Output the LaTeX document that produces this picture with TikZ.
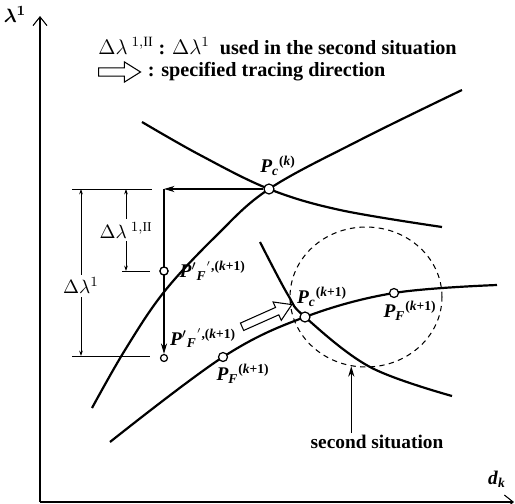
\documentclass[tikz,border=0pt]{standalone}
\usepackage{amsmath}
\usepackage{fontspec}
\setmainfont{Liberation Serif}
\usetikzlibrary{arrows.meta,positioning,calc,shapes.geometric,shapes.arrows}

% point labels: P, subscript, superscript
\newcommand{\plab}[3]{\textit{P}#1$_{\textit{#2}}$\textsuperscript{#3}}

\begin{document}
\begin{tikzpicture}[
        x=0.02cm, y=-0.02cm,
        curve/.style={line width=1.25pt},
        pt/.style={circle, draw, fill=white, line width=0.7pt,
                   inner sep=0pt, minimum size=0.2cm},
        lbl/.style={font=\fontsize{11}{12}\selectfont\bfseries, inner sep=1pt},
        dlbl/.style={font=\fontsize{11}{12}\selectfont, inner sep=1.5pt, fill=white},
        legend/.style={font=\fontsize{11.5}{13}\selectfont\bfseries, anchor=west, inner sep=0pt},
        axis/.style={line width=0.6pt, -{Straight Barb[length=5pt,width=8pt]}},
        arrow/.style={line width=0.6pt, -{Stealth[length=6pt,width=3.5pt]}},
        dim/.style={line width=0.5pt, {Stealth[length=3pt,width=2pt]}-{Stealth[length=3pt,width=2pt]}},
        ext/.style={line width=0.5pt},
        hollow/.style={single arrow, draw, fill=white, line width=0.6pt, inner sep=2pt,
                       single arrow head extend=0.12cm, single arrow tip angle=64}
    ]
        \useasboundingbox (0,0) rectangle (515,504);

        % axes
        \coordinate (o) at (40,502);
        \coordinate (ytip) at (40,16);
        \coordinate (xtip) at (514,502);
        \draw[axis] (o) -- (ytip);
        \draw[axis] (o) -- (xtip);
        \node[lbl, font=\fontsize{11}{12}\selectfont\boldmath] (lam) at (15,14) {$\lambda^{1}$};
        \node[lbl] (dk) at (497,479) {\textit{d}$_{\textit{k}}$};

        % legend
        \node[legend] (leg1) at (98,46)
            {$\Delta\lambda^{\;1,\mathrm{II}}$ : $\Delta\lambda^{1}$\ \ used in the second situation};
        \node[hollow, minimum height=0.84cm, anchor=west] (legarr) at (98,72) {};
        \node[legend, right=0.12cm of legarr] (leg2) {: specified tracing direction};

        % curves
        \draw[curve] plot[smooth, tension=0.6] coordinates
            {(142,122) (200,155) (269,189) (340,210) (442,227)};
        \draw[curve] plot[smooth, tension=0.6] coordinates
            {(92,408) (125,350) (164,292) (216,236) (269,189) (360,140) (462,90)};
        \draw[curve] plot[smooth, tension=0.6] coordinates
            {(260,242) (288,295) (305,317) (370,367) (452,396)};
        \draw[curve] plot[smooth, tension=0.6] coordinates
            {(110,442) (223,357) (305,317) (394,293) (497,285)};

        % second situation
        \node[draw, dashed, ellipse, line width=0.6pt, dash pattern=on 3pt off 2.5pt,
              minimum width=3.04cm, minimum height=2.8cm, inner sep=0pt] (sit) at (366,297) {};
        \node[lbl] (sitlbl) at (377,442) {second situation};
        \draw[arrow] (sitlbl.north -| sit.258) -- (sit.258);

        % dimension lines
        \coordinate (dtop) at (72,189);
        \coordinate (dmid) at (122,271);
        \coordinate (dbot) at (72,356);
        \draw[ext] (dtop) -- ++(80,0);
        \draw[ext] (dmid) -- ++(28,0);
        \draw[ext] (dbot) -- ++(78,0);
        \draw[dim] (81,189) -- node[dlbl, pos=0.58] {$\Delta\lambda^{1}$} (81,356);
        \draw[dim] (126,189) -- node[dlbl] {$\Delta\lambda^{\;1,\mathrm{II}}$} (126,271);

        % points
        \coordinate (crn) at (164,189);
        \node[pt] (pck)  at (269,189) {};
        \node[pt] (pck1) at (305,317) {};
        \node[pt, minimum size=0.18cm] (pfr) at (394,293) {};
        \node[pt, minimum size=0.18cm] (pfl) at (223,357) {};
        \node[pt, minimum size=0.16cm] (pfu) at (164,271) {};
        \node[pt, minimum size=0.14cm] (pfd) at (164,358) {};

        \draw[arrow] (pck) -- (crn);
        \draw[arrow] (crn) -- (pfd.north);
        \node[pt, minimum size=0.16cm] at (pfu) {};

        \node[hollow, minimum height=1.09cm, rotate=24] (dir) at (264,317) {};

        \node[lbl, above=0.12cm of pck, xshift=0.18cm]  {\plab{}{c}{(\textit{k})}};
        \node[lbl, above=0.06cm of pck1, xshift=0.34cm] {\plab{}{c}{(\textit{k}+1)}};
        \node[lbl, below=0.02cm of pfr, xshift=0.32cm]  {\plab{}{F}{(\textit{k}+1)}};
        \node[lbl, below=0cm of pfl, xshift=0.4cm]      {\plab{}{F}{(\textit{k}+1)}};
        \node[lbl, right=0.18cm of pfu]                 {\plab{$'$}{F}{$'$,(\textit{k}+1)}};
        \node[lbl, above right=0.1cm and 0.02cm of pfd] {\plab{$'$}{F}{$'$,(\textit{k}+1)}};
\end{tikzpicture}
\end{document}
